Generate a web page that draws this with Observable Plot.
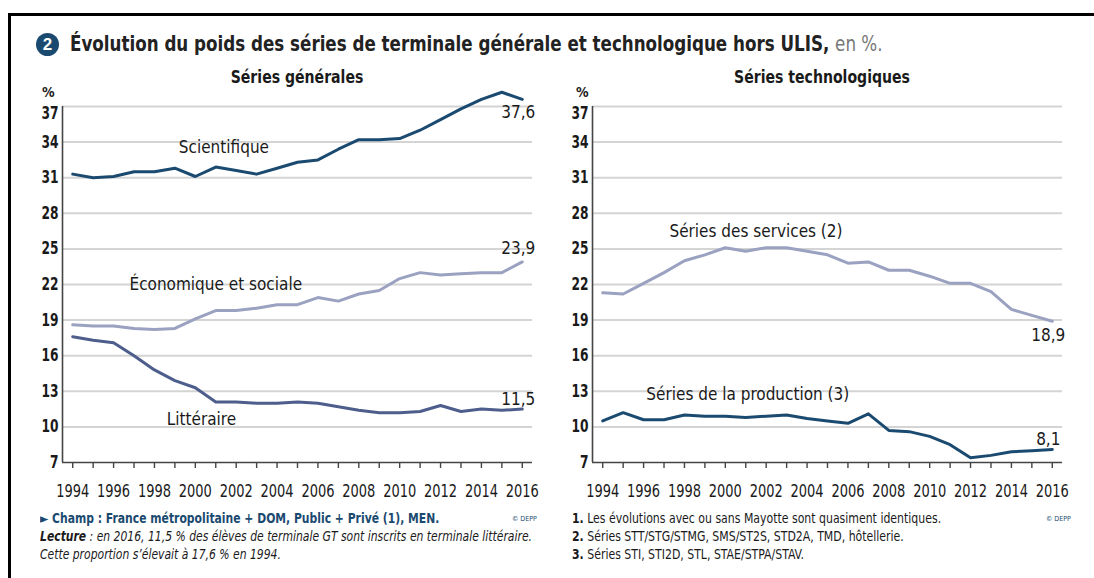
<!DOCTYPE html>
<html lang="fr">
<head>
<meta charset="utf-8">
<script src="https://cdn.jsdelivr.net/npm/d3@7"></script>
<script src="https://cdn.jsdelivr.net/npm/@observablehq/plot@0.6"></script>
<style>
  html, body { margin: 0; padding: 0; background: #fff; }
  #root { position: relative; width: 1094px; height: 578px; overflow: hidden; background: #fff;
    font-family: "Liberation Sans Narrow", "DejaVu Sans Condensed", "Arial Narrow", sans-serif; color: #1a1a1a; }
  .frameL { position: absolute; left: 8px; top: 13px; width: 3px; height: 600px; background: #000; }
  .frameT { position: absolute; left: 8px; top: 13px; width: 1100px; height: 3px; background: #000; }
  .abs { position: absolute; white-space: nowrap; }
  .badge { position: absolute; left: 36px; top: 33px; width: 23px; height: 23px; border-radius: 50%;
    background: #1b4a70; color: #fff; font: bold 17px "Liberation Sans", Arial, sans-serif; text-align: center; line-height: 23px; }
  .title { left: 70px; top: 32px; font-size: 21px; font-weight: bold; color: #222; transform: scaleX(0.885); transform-origin: 0 0; }
  .title span { font-weight: normal; color: #777; }
  .sub { top: 67px; font-size: 17px; font-weight: bold; transform: translateX(-50%) scaleX(0.92); }
  .pct { top: 84px; font-size: 14px; font-weight: bold; }
  .chart { position: absolute; top: 80px; }
  .foot { font-size: 13.5px; line-height: 18px; transform-origin: 0 0; }
  .champ { color: #1b4a70; font-weight: bold; }
  .depp { font-size: 7px; color: #1b4a70; }
</style>
</head>
<body>
<div id="root">
  <div class="frameL"></div><div class="frameT"></div>
  <div class="badge">2</div>
  <div class="abs title">Évolution du poids des séries de terminale générale et technologique hors ULIS, <span>en %.</span></div>
  <div class="abs sub" style="left:297px">Séries générales</div>
  <div class="abs sub" style="left:822px">Séries technologiques</div>
  <div class="abs pct" style="left:42px">%</div>
  <div class="abs pct" style="left:576px">%</div>
  <div id="left" class="chart" style="left:0px"></div>
  <div id="right" class="chart" style="left:530px"></div>
  <div class="abs foot" style="left:40px; top:509px; transform: scaleX(0.89)">
    <div class="champ">&#9658; Champ : France métropolitaine + DOM, Public + Privé (1), MEN.</div>
    <div style="font-style:italic"><b>Lecture</b> : en 2016, 11,5 % des élèves de terminale GT sont inscrits en terminale littéraire.</div>
    <div style="font-style:italic">Cette proportion s’élevait à 17,6 % en 1994.</div>
  </div>
  <div class="abs depp" style="left:512px; top:515px">© DEPP</div>
  <div class="abs foot" style="left:572px; top:509px; transform: scaleX(0.9)">
    <div><b>1.</b> Les évolutions avec ou sans Mayotte sont quasiment identiques.</div>
    <div><b>2.</b> Séries STT/STG/STMG, SMS/ST2S, STD2A, TMD, hôtellerie.</div>
    <div><b>3.</b> Séries STI, STI2D, STL, STAE/STPA/STAV.</div>
  </div>
  <div class="abs depp" style="left:1046px; top:515px">© DEPP</div>
</div>
<script>
// ---- Data ----
const years = [1994,1995,1996,1997,1998,1999,2000,2001,2002,2003,2004,2005,2006,2007,2008,2009,2010,2011,2012,2013,2014,2015,2016];
const yTicks = [7,10,13,16,19,22,25,28,31,34,37];

const scientifique = [31.3,31.0,31.1,31.5,31.5,31.8,31.1,31.9,31.6,31.3,31.8,32.3,32.5,33.4,34.2,34.2,34.3,35.0,35.9,36.8,37.6,38.2,37.6];
const economique   = [18.6,18.5,18.5,18.3,18.2,18.3,19.1,19.8,19.8,20.0,20.3,20.3,20.9,20.6,21.2,21.5,22.5,23.0,22.8,22.9,23.0,23.0,23.9];
const litteraire   = [17.6,17.3,17.1,16.0,14.8,13.9,13.3,12.1,12.1,12.0,12.0,12.1,12.0,11.7,11.4,11.2,11.2,11.3,11.8,11.3,11.5,11.4,11.5];
const services     = [21.3,21.2,22.1,23.0,24.0,24.5,25.1,24.8,25.1,25.1,24.8,24.5,23.8,23.9,23.2,23.2,22.7,22.1,22.1,21.4,19.9,19.4,18.9];
const production   = [10.5,11.2,10.6,10.6,11.0,10.9,10.9,10.8,10.9,11.0,10.7,10.5,10.3,11.1,9.7,9.6,9.2,8.5,7.4,7.6,7.9,8.0,8.1];

const seriesNames = ["Scientifique", "Économique et sociale", "Littéraire", "Séries des services (2)", "Séries de la production (3)"];

// ---- Styles / annotation placement ----
const DARK = "#1b4a70", MID = "#4d5d8c", LIGHT = "#9ba1c0";
const FONT = '"Liberation Sans Narrow", "DejaVu Sans Condensed", "Arial Narrow", sans-serif';

function toRows(name, values) { return values.map((v, i) => ({name, year: years[i], value: v})); }
const fmt = v => d3.format(".1f")(v).replace(".", ",");

// horizontally condense tick-label glyphs around their own anchor (x), leaving y untouched
function condense(svg, selector, f) {
  svg.querySelectorAll(selector).forEach(t => {
    const tr = t.getAttribute("transform") || "";
    const x = parseFloat(t.getAttribute("x")) || 0;
    t.setAttribute("transform", `${tr} translate(${x},0) scale(${f},1) translate(${-x},0)`.trim());
  });
}

function makeChart(lines, labels, ends) {
  const svg = Plot.plot({
    width: 550, height: 420,
    marginLeft: 62, marginRight: 18, marginTop: 26, marginBottom: 38,
    style: {fontFamily: FONT, background: "transparent", overflow: "visible"},
    x: {domain: [1993.5, 2016.5], axis: null},
    y: {domain: [7, 37], axis: null},
    marks: [
      Plot.ruleY(yTicks.filter(d => d > 7), {stroke: "#d4d4d4", strokeWidth: 2}),
      Plot.ruleY([7], {stroke: "#444", strokeWidth: 1.6}),
      Plot.ruleX([1993.5], {y1: 7, y2: 37, stroke: "#444", strokeWidth: 1.6}),
      Plot.axisX({ticks: years, tickSize: 6, tickPadding: 16, stroke: "#444", strokeWidth: 1.4,
        tickFormat: d => d % 2 === 0 ? String(d) : "", fontSize: 17, fill: "#1a1a1a"}),
      Plot.axisY({ticks: yTicks.filter(d => d < 37), tickSize: 0, tickPadding: 4, tickFormat: d => String(d),
        fontSize: 17, fontWeight: "bold", fill: "#1a1a1a"}),
      Plot.axisY({ticks: yTicks.filter(d => d === 37), tickSize: 0, tickPadding: 4, dy: 7, tickFormat: d => String(d),
        fontSize: 17, fontWeight: "bold", fill: "#1a1a1a"}),
      ...lines.map(l => Plot.line(toRows(l.name, l.values), {x: "year", y: "value", stroke: l.color, strokeWidth: 3, strokeLinejoin: "round"})),
      Plot.text(labels, {x: "x", y: "y", text: "text", fontSize: 17, fill: "#1a1a1a"}),
      ...ends.map(e => Plot.text([{year: years[years.length - 1], value: e.values[e.values.length - 1]}],
        {x: "year", y: "value", text: d => fmt(d.value), dx: -4, dy: e.dy, fontSize: 17, fill: "#1a1a1a"}))
    ]
  });
  condense(svg, 'g[aria-label="x-axis tick label"] text', 0.85);
  condense(svg, 'g[aria-label="y-axis tick label"] text', 0.8);
  return svg;
}

document.getElementById("left").append(makeChart(
  [
    {name: seriesNames[1], values: economique, color: LIGHT},
    {name: seriesNames[2], values: litteraire, color: MID},
    {name: seriesNames[0], values: scientifique, color: DARK}
  ],
  [
    {text: seriesNames[0], x: 2001.4, y: 33.5},
    {text: seriesNames[1], x: 2001.0, y: 22.0},
    {text: seriesNames[2], x: 2000.3, y: 10.6}
  ],
  [
    {values: scientifique, dy: 13},
    {values: economique, dy: -13},
    {values: litteraire, dy: -10}
  ]
));

document.getElementById("right").append(makeChart(
  [
    {name: seriesNames[3], values: services, color: LIGHT},
    {name: seriesNames[4], values: production, color: DARK}
  ],
  [
    {text: seriesNames[3], x: 2001.5, y: 26.5},
    {text: seriesNames[4], x: 2001.1, y: 12.75}
  ],
  [
    {values: services, dy: 14},
    {values: production, dy: -10}
  ]
));
</script>
</body>
</html>
